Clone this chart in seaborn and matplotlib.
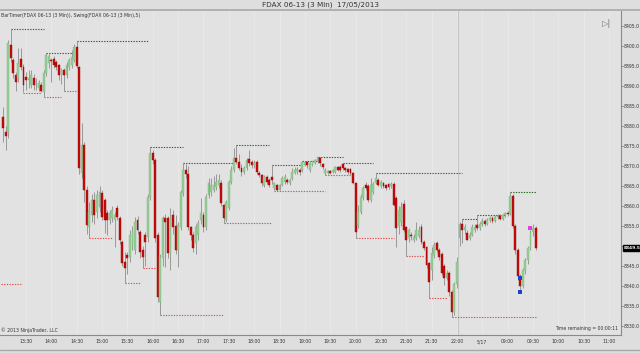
import matplotlib
matplotlib.use('Agg')
import matplotlib.pyplot as plt
from matplotlib.lines import Line2D
import matplotlib.transforms as mtransforms
import numpy as np
import pandas as pd
import seaborn as sns

# 3 minute FDAX bars, 16/05 13:03 .. 17/05 09:33
opens = [8382.25, 8378.5, 8378.5, 8400.25, 8396.5, 8392.75, 8392, 8396.75, 8394.75, 8392.25,
         8391.5, 8390.25, 8392, 8390.5, 8389.5, 8390.25, 8388.5, 8393.25, 8395.75, 8396.5,
         8396.75, 8396, 8395.25, 8392.75, 8394, 8392.75, 8394.75, 8395.25, 8396.5, 8399.75,
         8394.75, 8368.25, 8375.25, 8364, 8354.75, 8357.75, 8361.5, 8358.5, 8359.75, 8363.25,
         8361.5, 8358.25, 8356.5, 8357, 8356.5, 8359.5, 8357, 8351, 8346, 8347.75,
         8347.25, 8350, 8349, 8356.5, 8353.5, 8349, 8352.75, 8352.25, 8362.25, 8373.25,
         8371.5, 8352.75, 8336, 8347, 8357, 8357, 8348, 8357.75, 8355, 8349,
         8354.75, 8363.25, 8369, 8368, 8354.75, 8352.75, 8350.75, 8352.75, 8356.5, 8357.75,
         8354.75, 8362.75, 8363.5, 8364, 8364.75, 8365.25, 8365.75, 8360.25, 8356.5, 8359.5,
         8366, 8369, 8372, 8371, 8369.5, 8368.5, 8369.5, 8371.75, 8371, 8370.25,
         8371, 8368.25, 8367.75, 8365.25, 8367.25, 8366.5, 8367.25, 8364.5, 8365.25, 8364,
         8365.25, 8366, 8366.5, 8365.75, 8367, 8368.25, 8368.75, 8369, 8369, 8370.25,
         8371, 8369, 8370.25, 8370.75, 8371, 8372, 8370.5, 8368.25, 8368.25, 8368.75,
         8368.5, 8368.5, 8369.75, 8369.75, 8370.5, 8369.5, 8369.25, 8369.25, 8368.25, 8365.75,
         8355.25, 8358.5, 8362.25, 8365.25, 8365, 8361.5, 8363.5, 8365.75, 8366.5, 8365,
         8365.75, 8365.25, 8365.5, 8365, 8365.5, 8362, 8355, 8356, 8360.5, 8354.75,
         8352, 8352.75, 8351.5, 8352, 8352.5, 8354.75, 8351, 8349.75, 8345.75, 8344,
         8347.75, 8350.75, 8349, 8348, 8345, 8342, 8343.25, 8338.5, 8333.5, 8340.5,
         8352, 8355.5, 8354, 8353.25, 8352, 8352.75, 8354, 8355.25, 8354.5, 8355.5,
         8356.25, 8355.5, 8356.5, 8357, 8356.25, 8357.25, 8357.5, 8356.75, 8357.75, 8358.25,
         8358, 8362.5, 8355, 8349, 8342.5, 8340, 8344, 8346.5, 8349.5, 8353.5,
         8354.5]
highs = [8384.75, 8380, 8401.5, 8404.25, 8397, 8393.5, 8399.5, 8399.4, 8395.5, 8393.5,
         8394, 8394, 8393, 8392, 8391.5, 8391, 8394, 8398.3, 8398, 8397,
         8397.5, 8396.5, 8395.5, 8394.5, 8394.5, 8396, 8397, 8399, 8400.5, 8401.25,
         8395, 8380.75, 8376, 8365, 8361, 8363, 8363.5, 8364, 8365, 8364,
         8362, 8359, 8359, 8360, 8358.5, 8360.25, 8357.5, 8351.5, 8348.5, 8348.5,
         8354, 8355, 8357.25, 8357.5, 8354, 8350, 8353.5, 8363, 8374.8, 8374,
         8372, 8353.5, 8348, 8357.5, 8358, 8357.5, 8359.5, 8359, 8357.75, 8356,
         8364, 8370.7, 8370.5, 8370, 8355, 8353.5, 8355.5, 8356.5, 8362, 8358.5,
         8363, 8367, 8367, 8367.5, 8368, 8368, 8366.5, 8360.5, 8361.5, 8366.5,
         8370, 8374.5, 8375.25, 8373, 8370.5, 8370, 8372, 8374, 8371.5, 8371.5,
         8371.5, 8368.75, 8368, 8367.75, 8367.75, 8367, 8370.25, 8366, 8365.5, 8365.5,
         8367.5, 8368, 8367, 8367, 8369.5, 8369.75, 8369.75, 8369.5, 8371.25, 8371.25,
         8371.25, 8371, 8371.25, 8371.75, 8372.25, 8372.25, 8370.75, 8369.5, 8369, 8369,
         8369.25, 8370, 8370, 8370.25, 8370.75, 8369.75, 8369.5, 8369.5, 8368.5, 8366,
         8360.25, 8363, 8365, 8366, 8365.5, 8367, 8366, 8368.2, 8367, 8366.5,
         8366, 8365.5, 8365.75, 8366, 8366, 8362.5, 8360, 8361, 8361.5, 8355,
         8354.5, 8353.5, 8353, 8356, 8355, 8355.5, 8351.5, 8350, 8346, 8349.75,
         8351, 8351.25, 8349.5, 8348.5, 8345.5, 8344, 8343.75, 8339, 8341, 8347.25,
         8356, 8356.75, 8355.5, 8354, 8353.5, 8355.5, 8355.5, 8357.75, 8356, 8357,
         8356.75, 8357, 8357.5, 8357.5, 8357.75, 8358, 8358, 8358, 8358.5, 8358.75,
         8363.5, 8363, 8355.5, 8349.5, 8343, 8344.5, 8347, 8350, 8354, 8355.5,
         8355]
lows = [8376, 8374, 8377, 8396, 8392, 8388.75, 8391, 8394, 8388.5, 8389,
        8389.5, 8389.5, 8389, 8389, 8388.75, 8388.5, 8387.2, 8392.5, 8394.5, 8391,
        8394.5, 8394, 8391.5, 8390.5, 8388.75, 8392, 8394, 8394.5, 8396, 8394.5,
        8368, 8367, 8361, 8353, 8352, 8356, 8355.5, 8357, 8358.5, 8356.5,
        8353.25, 8352.75, 8355.5, 8356, 8349.75, 8356.5, 8350.5, 8345, 8340.75, 8343,
        8346, 8349, 8348, 8353, 8347, 8344.6, 8345, 8351, 8361.5, 8370.5,
        8351, 8336, 8332.75, 8345, 8344.75, 8347, 8344, 8353, 8348, 8344.75,
        8354, 8362.5, 8367, 8354, 8351.5, 8348.5, 8348, 8351.5, 8355.5, 8353.5,
        8354, 8362, 8362.5, 8363.5, 8364, 8364.5, 8360, 8355.7, 8356, 8359,
        8365.5, 8368.5, 8370.5, 8369, 8367.5, 8368, 8369, 8370, 8369.5, 8369.5,
        8368, 8367.25, 8365, 8364.75, 8365.5, 8364.75, 8365.5, 8364, 8363.75, 8364,
        8365, 8365.5, 8365.5, 8365.25, 8366.5, 8368, 8368, 8367.75, 8368.5, 8370,
        8369.5, 8368.5, 8370, 8370.5, 8370.75, 8370, 8369.25, 8367.75, 8368, 8368,
        8368.25, 8368.25, 8368.75, 8368.5, 8369, 8368.5, 8368, 8367.75, 8365.5, 8352.1,
        8354.5, 8358, 8361.5, 8364, 8361, 8361, 8363, 8365.5, 8365, 8364.5,
        8364.5, 8364, 8364.25, 8364.5, 8360, 8349.8, 8353, 8355, 8353.5, 8347.6,
        8351, 8351.5, 8351, 8351.5, 8352, 8350.5, 8349, 8344.5, 8336.9, 8341.5,
        8347, 8348.5, 8346.5, 8342.75, 8340.25, 8341.5, 8337.5, 8332.25, 8332.75, 8339.5,
        8350, 8350.75, 8353, 8351.5, 8351.5, 8352.5, 8353.5, 8354, 8354, 8355,
        8355, 8355.25, 8356, 8355.75, 8356, 8356.75, 8356.5, 8356.5, 8357.25, 8357.5,
        8357.75, 8354.5, 8348, 8341.5, 8338.5, 8339.5, 8343, 8345.5, 8349, 8352.5,
        8349]
closes = [8379.5, 8377.5, 8400.75, 8397, 8393.25, 8391, 8395.75, 8394.75, 8390.25, 8391.5,
          8392, 8392.75, 8390.25, 8390.75, 8390.75, 8388.75, 8393.25, 8397.75, 8397.5, 8396.25,
          8395.25, 8394.75, 8392.75, 8394, 8392.75, 8395.25, 8396.5, 8397.25, 8399.75, 8395,
          8369.5, 8375.25, 8364, 8355.25, 8358.5, 8361.5, 8357.75, 8362.75, 8363.5, 8357.25,
          8356.5, 8356.5, 8358.25, 8359, 8357.75, 8357.25, 8351.5, 8345.75, 8344.5, 8347,
          8352.75, 8353.5, 8356, 8354, 8348.5, 8347.25, 8351, 8362.25, 8373.25, 8371.5,
          8352, 8337.25, 8347.25, 8357, 8356, 8348.25, 8357, 8354.75, 8349, 8355.25,
          8363.5, 8369, 8368, 8354.75, 8352.75, 8349.5, 8354.75, 8355.75, 8358.25, 8354.75,
          8362.25, 8365.75, 8365.25, 8365.25, 8366, 8366.5, 8360.75, 8357, 8361, 8366,
          8369, 8372, 8371, 8369.5, 8368.5, 8369.5, 8371.5, 8370.75, 8370.25, 8370.75,
          8368.5, 8367.75, 8365.75, 8367.25, 8366, 8365.25, 8366.5, 8365.75, 8364, 8365.25,
          8367, 8367.25, 8366, 8366.5, 8368.5, 8369, 8369.25, 8368.5, 8371, 8371,
          8370.25, 8370.75, 8371.25, 8371.5, 8372.25, 8370.75, 8369.75, 8369, 8368.75, 8368.25,
          8369, 8369.75, 8369, 8369, 8369.5, 8369, 8368.5, 8368.25, 8365.75, 8353.5,
          8358.5, 8362.25, 8364.5, 8364.5, 8361.5, 8365.25, 8365.5, 8367, 8365.25, 8366,
          8365, 8364.5, 8364.75, 8365.5, 8360.25, 8354.5, 8359, 8359.75, 8354, 8351.5,
          8354, 8352.5, 8352.25, 8354, 8354, 8351, 8349.5, 8345.25, 8341, 8348.25,
          8350.25, 8349, 8347.25, 8343.25, 8342, 8343.25, 8338.5, 8333.5, 8340.5, 8346,
          8355.5, 8354, 8354.75, 8351.5, 8352.75, 8354.75, 8354.75, 8354.5, 8355.5, 8356.25,
          8355.5, 8356.5, 8357, 8356.25, 8357.25, 8357.5, 8356.75, 8357.75, 8358.25, 8358,
          8362.5, 8355, 8349, 8342.5, 8340, 8344, 8346.5, 8349.5, 8353.5, 8354.5,
          8349.5]

# Swing(5) levels: price, first bar, last bar (bar numbers)
swing_high_price = [8404.25, 8398.3, 8401.25, 8374.8, 8370.7, 8375.25, 8370.25, 8371.25, 8372.25,
                    8370.75, 8368.2, 8356.75, 8357.75, 8363.5]
swing_high_from = [4, 18, 30, 59, 72, 93, 107, 119, 125, 135, 148, 182, 188, 201]
swing_high_to = [17, 29, 58, 72, 92, 106, 119, 125, 135, 147, 182, 188, 199, 211]
swing_low_price = [8340.5, 8388.3, 8387.2, 8388.75, 8352, 8340.75, 8344.6, 8332.75, 8355.7,
                   8363.75, 8367.75, 8352.1, 8347.6, 8336.9, 8332.25]
swing_low_from = [0, 9, 17, 25, 35, 49, 56, 63, 88, 108, 128, 140, 160, 169, 178]
swing_low_to = [8, 16, 24, 30, 44, 55, 61, 88, 107, 128, 138, 155, 167, 176, 211]

last_price = 8349.5
price_ticks = np.arange(8330, 8406, 5)

# time axis: session 13:03-22:00 and next day 08:03-11:00
times = list(pd.date_range('2013-05-16 13:03', '2013-05-16 22:00', freq='3min')) + \
        list(pd.date_range('2013-05-17 08:03', '2013-05-17 11:00', freq='3min'))

bars = pd.DataFrame({'bar': np.arange(1, len(opens) + 1), 'open': opens, 'high': highs,
                     'low': lows, 'close': closes})
bars['up'] = bars['close'] >= bars['open']

sns.set_theme(style='white')
plt.rcParams['font.family'] = ['DejaVu Sans']

BG = '#e2e2e2'
fig = plt.figure(figsize=(6.4, 3.53), dpi=100, facecolor='#dedede')
ax = fig.add_axes([0, 1 - 335 / 353, 621 / 640, 324 / 353], facecolor=BG)

# tick positions from the time axis
tick_pos, tick_lab = [], []
day = times[0].day
for i, t in enumerate(times):
    if t.minute % 30 == 0:
        tick_pos.append(i + 1)
        if t.day != day:
            tick_lab.append('%d/%d' % (t.month, t.day))
            day = t.day
        else:
            tick_lab.append(t.strftime('%H:%M'))

for p in tick_pos:
    ax.axvline(p, color='#e9e9e9', lw=0.7, zorder=0)
ax.axvline(180.3, color='#c4c4c4', lw=0.8, zorder=0)

# swing lines
ax.hlines(swing_high_price, swing_high_from, swing_high_to, colors='#1e6b1e',
          linestyles=(0, (1.2, 1.2)), lw=0.8, zorder=1)
ax.hlines(swing_low_price, swing_low_from, swing_low_to, colors='#e05050',
          linestyles=(0, (1.2, 1.2)), lw=0.8, zorder=1)

# candles
ax.vlines(bars['bar'], bars['low'], bars['high'], color='#8c8c8c', lw=0.6, zorder=2)
body_lo = np.minimum(bars['open'], bars['close'])
body_h = np.maximum(np.abs(bars['close'] - bars['open']), 0.3)
colors = np.where(bars['up'], '#93cf93', '#c40d0d')
edges = np.where(bars['up'], '#86b486', '#a00000')
ax.bar(bars['bar'], body_h, bottom=body_lo, width=0.74, color=colors,
       edgecolor=edges, linewidth=0.3, zorder=3)

# markers near the end
sns.scatterplot(x=[205, 205], y=[8342.0, 8338.5], color='#1f3fd0', marker='s', s=5,
                linewidth=0, ax=ax, zorder=4)
sns.scatterplot(x=[209], y=[8354.5], color='#e040e0', marker='s', s=5, linewidth=0, ax=ax, zorder=4)

ax.set_xlim(-0.25, 244.7)
ax.set_ylim(8327.75, 8408.75)
ax.set_xticks(tick_pos)
ax.set_xticklabels(tick_lab)
ax.set_yticks(price_ticks)
# the 8350 label is hidden under the last price box
ax.set_yticklabels(['' if v == 8350 else '%.1f' % v for v in price_ticks])
ax.yaxis.tick_right()
ax.tick_params(axis='both', labelsize=3.3, colors='#555555', labelcolor='#333333',
               length=1.5, width=0.5, pad=0.6)
ax.tick_params(axis='x', pad=1.5)
for s in ['top', 'left']:
    ax.spines[s].set_visible(False)
for s in ['right', 'bottom']:
    ax.spines[s].set_color('#8a8a8a')
    ax.spines[s].set_linewidth(0.8)
ax.set_xlabel('')
ax.set_ylabel('')

# current price box
trans = mtransforms.blended_transform_factory(ax.transAxes, ax.transData)
ax.text(1.005, last_price, '%.1f' % last_price, transform=trans, fontsize=3.2,
        color='white', fontweight='bold', va='center', ha='left',
        bbox=dict(boxstyle='square,pad=0.2', fc='black', ec='black'))

# texts
fig.text(0.5, 1 - 5 / 353, 'FDAX 06-13 (3 Min)  17/05/2013', ha='center', va='center',
         fontsize=5.2, color='#333333')
fig.add_artist(Line2D([0, 1], [1 - 10 / 353, 1 - 10 / 353], color='#a8a8a8', lw=1.2))
fig.add_artist(Line2D([0, 1], [1 - 350 / 353, 1 - 350 / 353], color='#a8a8a8', lw=1.0))
ax.text(0.002, 0.993, 'BarTimer(FDAX 06-13 (3 Min)), Swing(FDAX 06-13 (3 Min),5)',
        transform=ax.transAxes, fontsize=3.3, color='#333333', va='top', ha='left')
ax.text(0.002, 0.006, '© 2013 NinjaTrader, LLC', transform=ax.transAxes, fontsize=3.3,
        color='#333333', va='bottom', ha='left')
ax.text(0.996, 0.012, 'Time remaining = 00:00:11', transform=ax.transAxes, fontsize=3.3,
        color='#333333', va='bottom', ha='right')
ax.text(0.985, 0.975, '▷|', transform=ax.transAxes, fontsize=6, color='#777777',
        va='top', ha='right')

plt.savefig('out.png', dpi=100, facecolor=fig.get_facecolor())
